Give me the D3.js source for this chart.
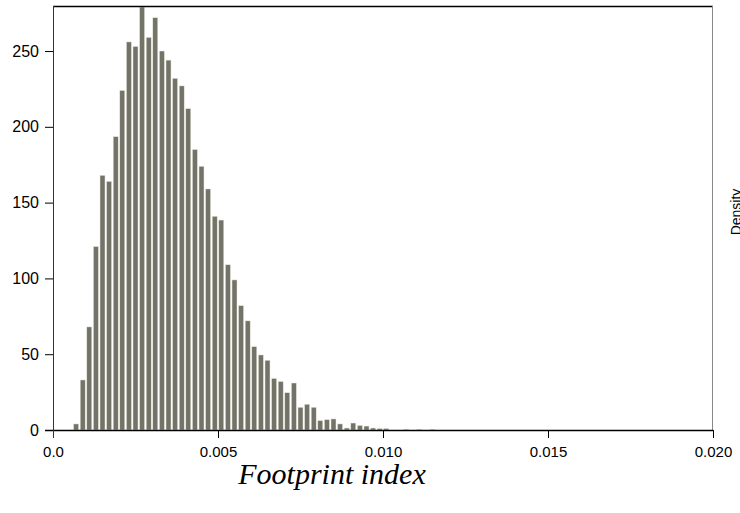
<!DOCTYPE html>
<html><head><meta charset="utf-8">
<script src="https://cdn.jsdelivr.net/npm/d3@7"></script>
<style>body{margin:0;background:#fff}</style>
</head><body>
<svg id="c" width="740" height="513"></svg>
<script>
const binStart = 0.0006;
const binWidth = 0.0002;
const densities = [4, 33, 68, 121, 168, 164, 193.5, 224, 256, 253,
  279, 259, 272, 250, 244, 232, 227, 212, 185, 174,
  159, 141, 138.5, 109, 99, 82, 72, 55, 49.5, 46,
  34, 32, 24.6, 31, 15, 17, 15, 6.2, 6.8, 7.3,
  4, 1.3, 4.6, 3, 2.6, 1.3, 1, 1, 0, 0, 0.5, 0, 0.5, 0, 0.5];
const xTicks = [0, 0.005, 0.010, 0.015, 0.020];
const xTickLabels = ["0.0", "0.005", "0.010", "0.015", "0.020"];
const yTicks = [0, 50, 100, 150, 200, 250];
const xTitle = "Footprint index";
const yTitle = "Density";

const bins = densities.map((d, i) => ({x0: binStart + i * binWidth, x1: binStart + (i + 1) * binWidth, v: d}));

const svg = d3.select("#c");
const x = d3.scaleLinear().domain([0, 0.02]).range([53, 713]);
const y = d3.scaleLinear().domain([0, 279.7]).range([430, 6]);

svg.append("g").selectAll("rect").data(bins).join("rect")
  .attr("x", d => x(d.x0) + 0.8)
  .attr("width", d => x(d.x1) - x(d.x0) - 1.6)
  .attr("y", d => y(d.v))
  .attr("height", d => y(0) - y(d.v))
  .attr("fill", "#737368")
  .attr("stroke", "#e8e8e0")
  .attr("stroke-width", 0.5);

// frame
svg.append("line").attr("x1", 53).attr("x2", 713).attr("y1", 6.5).attr("y2", 6.5)
  .attr("stroke", "#000").attr("stroke-width", 1.5);
svg.append("line").attr("x1", 712.5).attr("x2", 712.5).attr("y1", 6).attr("y2", 430)
  .attr("stroke", "#888").attr("stroke-width", 1);

const xAxis = d3.axisBottom(x).tickValues(xTicks).tickFormat((d, i) => xTickLabels[i]).tickSize(8).tickPadding(8);
const gx = svg.append("g").attr("transform", "translate(0,430)").call(xAxis);
gx.select(".domain").attr("d", "M45,0.5H713").attr("stroke", "#000").attr("stroke-width", 1.3);
gx.selectAll("text").attr("font-family", "Liberation Sans, Arial, sans-serif").attr("font-size", 15).attr("fill", "#000");

const yAxis = d3.axisLeft(y).tickValues(yTicks).tickSize(8).tickPadding(6);
const gy = svg.append("g").attr("transform", "translate(53,0)").call(yAxis);
gy.select(".domain").attr("d", "M0.5,6V438").attr("stroke", "#333");
gy.selectAll("text").attr("font-family", "Liberation Sans, Arial, sans-serif").attr("font-size", 16).attr("fill", "#000");

svg.append("text").attr("x", 332).attr("y", 484).attr("text-anchor", "middle")
  .attr("font-family", "Liberation Serif, Times New Roman, serif").attr("font-style", "italic")
  .attr("font-size", 30).text(xTitle);

svg.append("text").attr("transform", "translate(741,212) rotate(-90)").attr("text-anchor", "middle")
  .attr("font-family", "Liberation Sans, Arial, sans-serif").attr("font-size", 14).text(yTitle);
</script>
</body></html>
